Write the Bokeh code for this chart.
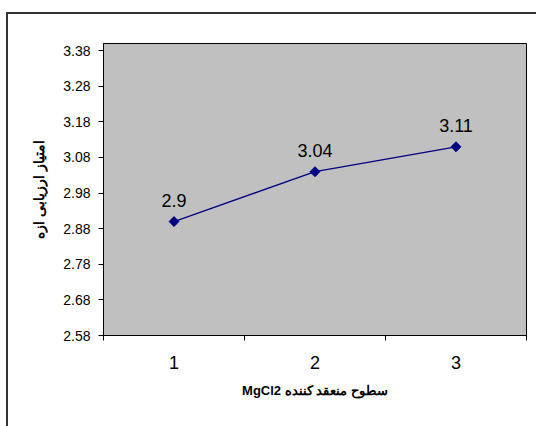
import math
from bokeh.plotting import figure
from bokeh.models import (FixedTicker, NumeralTickFormatter, LabelSet,
                          ColumnDataSource, Range1d)
from bokeh.core.properties import value
from bokeh.embed import file_html
from bokeh.resources import INLINE

# ---- data ----
levels = [1, 2, 3]
level_labels = ["1", "2", "3"]
scores = [2.90, 3.04, 3.11]
score_labels = ["2.9", "3.04", "3.11"]
y_ticks = [2.58, 2.68, 2.78, 2.88, 2.98, 3.08, 3.18, 3.28, 3.38]
y_min, y_max = 2.58, 3.40
x_title = "\u202bسطوح منعقد كننده MgCl2\u202c"
y_title = "امتیاز ارزیابی ازه"

FONT = "Liberation Sans"

p = figure(width=536, height=426, output_backend="svg", toolbar_location=None,
           x_range=Range1d(0.5, 3.5), y_range=Range1d(y_min, y_max),
           min_border_left=103, min_border_top=43, min_border_right=10,
           min_border_bottom=91, title=None)
# outer chart-area border (only its top and left edges fall inside the window),
# painted as the host background behind a transparent border fill
p.border_fill_alpha = 0
p.styles = {"background": ("linear-gradient(#333333, #333333) 6px 12px / 100% 2px no-repeat, "
                           "linear-gradient(#333333, #333333) 6px 12px / 2px 100% no-repeat, "
                           "#ffffff")}

p.background_fill_color = "#C0C0C0"
p.outline_line_color = "black"
p.outline_line_width = 1
p.xgrid.visible = False
p.ygrid.visible = False

# x axis
xa = p.xaxis[0]
xa.ticker = FixedTicker(ticks=levels, minor_ticks=[0.5, 1.5, 2.5, 3.5])
xa.major_label_overrides = {lv: lab for lv, lab in zip(levels, level_labels)}
xa.major_tick_out = 0
xa.major_tick_in = 0
xa.minor_tick_out = 5
xa.minor_tick_in = 0
xa.minor_tick_line_color = "black"
xa.axis_line_color = "black"
xa.major_label_text_font = FONT
xa.major_label_text_font_size = "18px"
xa.major_label_text_color = "black"
xa.major_label_standoff = 15
xa.axis_label = x_title
xa.axis_label_text_font = FONT
xa.axis_label_text_font_size = "13px"
xa.axis_label_text_font_style = "bold"
xa.axis_label_text_color = "black"
xa.axis_label_standoff = 11

# y axis
ya = p.yaxis[0]
ya.ticker = FixedTicker(ticks=y_ticks, minor_ticks=[])
ya.formatter = NumeralTickFormatter(format="0.00")
ya.major_tick_out = 5
ya.major_tick_in = 0
ya.major_tick_line_color = "black"
ya.axis_line_color = "black"
ya.major_label_text_font = FONT
ya.major_label_text_font_size = "14px"
ya.major_label_text_color = "black"
ya.major_label_standoff = 8
ya.axis_label = y_title
ya.axis_label_text_font = FONT
ya.axis_label_text_font_size = "14px"
ya.axis_label_text_font_style = "bold"
ya.axis_label_text_color = "black"
ya.axis_label_standoff = 13

# series
p.line(levels, scores, line_color="#000080", line_width=1.3)
p.scatter(levels, scores, marker="square", size=7, angle=math.pi / 4,
          color="#000080")

src = ColumnDataSource(dict(x=levels, y=scores, t=score_labels))
p.add_layout(LabelSet(x="x", y="y", text="t", source=src, text_align="center",
                      text_baseline="middle", y_offset=21,
                      text_font=value(FONT), text_font_size=value("18px"),
                      text_color="black"))

open("out.html", "w").write(file_html(p, INLINE))
